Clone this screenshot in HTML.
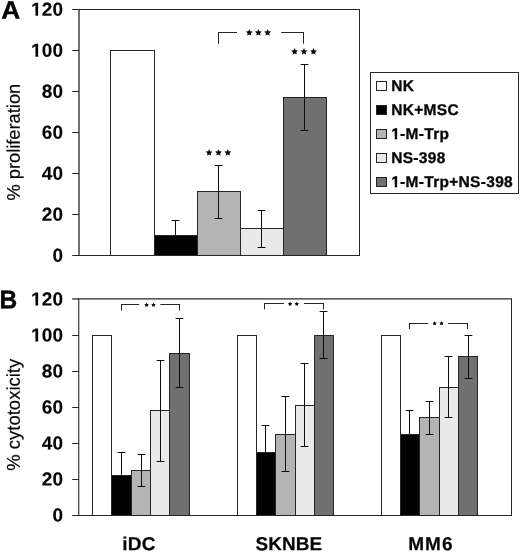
<!DOCTYPE html>
<html><head><meta charset="utf-8"><title>Figure</title>
<style>
html,body{margin:0;padding:0;background:#fff;}
body{width:520px;height:552px;overflow:hidden;font-family:"Liberation Sans",sans-serif;}
svg{display:block;will-change:transform;}
text{font-family:"Liberation Sans",sans-serif;fill:#050505;}
.tk{font-size:18.9px;font-weight:bold;letter-spacing:0.1px;stroke:#050505;stroke-width:0.12px;}
.cat{font-size:19px;font-weight:bold;letter-spacing:0.1px;stroke:#050505;stroke-width:0.2px;}
.lg{font-size:15.5px;font-weight:bold;letter-spacing:0.3px;stroke:#050505;stroke-width:0.3px;}
.pl{font-size:25px;font-weight:bold;stroke:#050505;stroke-width:0.4px;}
.yl{font-size:18.5px;font-weight:normal;stroke:#050505;stroke-width:0.2px;}
</style></head><body>
<svg width="520" height="552" viewBox="0 0 520 552">
<rect x="0" y="0" width="520" height="552" fill="#ffffff"/>
<rect x="79.00" y="9.20" width="280.50" height="246.20" fill="#fff" stroke="none"/>
<line x1="78.50" y1="9.50" x2="360.00" y2="9.50" stroke="#262626" stroke-width="1"/>
<line x1="78.50" y1="255.50" x2="360.00" y2="255.50" stroke="#262626" stroke-width="1"/>
<line x1="359.50" y1="9.20" x2="359.50" y2="255.40" stroke="#262626" stroke-width="1"/>
<line x1="79.00" y1="9.00" x2="79.00" y2="256.00" stroke="#262626" stroke-width="1.3"/>
<line x1="72.20" y1="255.50" x2="79.00" y2="255.50" stroke="#262626" stroke-width="1"/>
<text transform="translate(63.1,261.85) rotate(0.03) scale(1.005,1)" text-anchor="end" class="tk">0</text>
<line x1="72.20" y1="214.50" x2="79.00" y2="214.50" stroke="#262626" stroke-width="1"/>
<text transform="translate(63.1,220.82) rotate(0.03) scale(1.005,1)" text-anchor="end" class="tk">20</text>
<line x1="72.20" y1="173.50" x2="79.00" y2="173.50" stroke="#262626" stroke-width="1"/>
<text transform="translate(63.1,179.78) rotate(0.03) scale(1.005,1)" text-anchor="end" class="tk">40</text>
<line x1="72.20" y1="132.50" x2="79.00" y2="132.50" stroke="#262626" stroke-width="1"/>
<text transform="translate(63.1,138.75) rotate(0.03) scale(1.005,1)" text-anchor="end" class="tk">60</text>
<line x1="72.20" y1="91.50" x2="79.00" y2="91.50" stroke="#262626" stroke-width="1"/>
<text transform="translate(63.1,97.72) rotate(0.03) scale(1.005,1)" text-anchor="end" class="tk">80</text>
<line x1="72.20" y1="50.50" x2="79.00" y2="50.50" stroke="#262626" stroke-width="1"/>
<text transform="translate(63.1,56.68) rotate(0.03) scale(1.005,1)" text-anchor="end" class="tk">100</text>
<rect x="31.00" y="53.68" width="4.40" height="3.90" fill="#fff"/><rect x="38.20" y="53.68" width="3.80" height="3.90" fill="#fff"/>
<line x1="72.20" y1="9.50" x2="79.00" y2="9.50" stroke="#262626" stroke-width="1"/>
<text transform="translate(63.1,15.65) rotate(0.03) scale(1.005,1)" text-anchor="end" class="tk">120</text>
<rect x="31.00" y="12.65" width="4.40" height="3.90" fill="#fff"/><rect x="38.20" y="12.65" width="3.80" height="3.90" fill="#fff"/>
<rect x="110.50" y="50.50" width="44.00" height="205.00" fill="#ffffff" stroke="#262626" stroke-width="1"/>
<rect x="154.50" y="235.50" width="43.00" height="20.00" fill="#000000" stroke="#262626" stroke-width="1"/>
<rect x="197.50" y="191.50" width="43.00" height="64.00" fill="#b4b4b4" stroke="#262626" stroke-width="1"/>
<rect x="240.50" y="228.50" width="43.00" height="27.00" fill="#e9e9e9" stroke="#262626" stroke-width="1"/>
<rect x="283.50" y="97.50" width="43.00" height="158.00" fill="#707070" stroke="#262626" stroke-width="1"/>
<line x1="175.50" y1="220.00" x2="175.50" y2="235.50" stroke="#0c0c0c" stroke-width="1"/><line x1="171.60" y1="220.50" x2="179.40" y2="220.50" stroke="#0c0c0c" stroke-width="1"/>
<line x1="218.50" y1="165.00" x2="218.50" y2="219.00" stroke="#0c0c0c" stroke-width="1"/><line x1="214.60" y1="165.50" x2="222.40" y2="165.50" stroke="#0c0c0c" stroke-width="1"/><line x1="214.60" y1="218.50" x2="222.40" y2="218.50" stroke="#0c0c0c" stroke-width="1"/>
<line x1="261.50" y1="210.00" x2="261.50" y2="248.00" stroke="#0c0c0c" stroke-width="1"/><line x1="257.60" y1="210.50" x2="265.40" y2="210.50" stroke="#0c0c0c" stroke-width="1"/><line x1="257.60" y1="247.50" x2="265.40" y2="247.50" stroke="#0c0c0c" stroke-width="1"/>
<line x1="304.50" y1="64.00" x2="304.50" y2="131.00" stroke="#0c0c0c" stroke-width="1"/><line x1="300.60" y1="64.50" x2="308.40" y2="64.50" stroke="#0c0c0c" stroke-width="1"/><line x1="300.60" y1="130.50" x2="308.40" y2="130.50" stroke="#0c0c0c" stroke-width="1"/>
<line x1="218.50" y1="32.00" x2="218.50" y2="43.70" stroke="#262626" stroke-width="1"/><line x1="218.00" y1="32.50" x2="237.00" y2="32.50" stroke="#262626" stroke-width="1"/><line x1="303.50" y1="32.00" x2="303.50" y2="43.70" stroke="#262626" stroke-width="1"/><line x1="281.30" y1="32.50" x2="304.00" y2="32.50" stroke="#262626" stroke-width="1"/>
<polygon points="249.30,29.15 250.34,31.26 252.68,31.60 250.99,33.25 251.39,35.57 249.30,34.48 247.21,35.57 247.61,33.25 245.92,31.60 248.26,31.26" fill="#0a0a0a"/>
<polygon points="258.40,29.15 259.44,31.26 261.78,31.60 260.09,33.25 260.49,35.57 258.40,34.48 256.31,35.57 256.71,33.25 255.02,31.60 257.36,31.26" fill="#0a0a0a"/>
<polygon points="267.60,29.15 268.64,31.26 270.98,31.60 269.29,33.25 269.69,35.57 267.60,34.48 265.51,35.57 265.91,33.25 264.22,31.60 266.56,31.26" fill="#0a0a0a"/>
<polygon points="294.60,48.05 295.64,50.16 297.98,50.50 296.29,52.15 296.69,54.47 294.60,53.38 292.51,54.47 292.91,52.15 291.22,50.50 293.56,50.16" fill="#0a0a0a"/>
<polygon points="304.00,48.05 305.04,50.16 307.38,50.50 305.69,52.15 306.09,54.47 304.00,53.38 301.91,54.47 302.31,52.15 300.62,50.50 302.96,50.16" fill="#0a0a0a"/>
<polygon points="313.50,48.05 314.54,50.16 316.88,50.50 315.19,52.15 315.59,54.47 313.50,53.38 311.41,54.47 311.81,52.15 310.12,50.50 312.46,50.16" fill="#0a0a0a"/>
<polygon points="209.10,149.15 210.14,151.26 212.48,151.60 210.79,153.25 211.19,155.57 209.10,154.47 207.01,155.57 207.41,153.25 205.72,151.60 208.06,151.26" fill="#0a0a0a"/>
<polygon points="218.50,149.15 219.54,151.26 221.88,151.60 220.19,153.25 220.59,155.57 218.50,154.47 216.41,155.57 216.81,153.25 215.12,151.60 217.46,151.26" fill="#0a0a0a"/>
<polygon points="227.80,149.15 228.84,151.26 231.18,151.60 229.49,153.25 229.89,155.57 227.80,154.47 225.71,155.57 226.11,153.25 224.42,151.60 226.76,151.26" fill="#0a0a0a"/>
<rect x="370.50" y="72.50" width="148.00" height="121.00" fill="#ffffff" stroke="#262626" stroke-width="1"/>
<rect x="376.50" y="81.50" width="10.00" height="9.00" fill="#ffffff" stroke="#262626" stroke-width="1"/>
<text transform="translate(391.2,91.00) rotate(0.03)" class="lg">NK</text>
<rect x="376.50" y="105.50" width="10.00" height="9.00" fill="#000000" stroke="#262626" stroke-width="1"/>
<text transform="translate(391.2,115.00) rotate(0.03)" class="lg">NK+MSC</text>
<rect x="376.50" y="129.50" width="10.00" height="9.00" fill="#b4b4b4" stroke="#262626" stroke-width="1"/>
<text transform="translate(391.2,139.00) rotate(0.03)" class="lg">1-M-Trp</text>
<rect x="391.30" y="135.90" width="3.34" height="4.30" fill="#fff"/><rect x="397.15" y="135.90" width="3.05" height="4.30" fill="#fff"/>
<rect x="376.50" y="153.50" width="10.00" height="9.00" fill="#e9e9e9" stroke="#262626" stroke-width="1"/>
<text transform="translate(391.2,163.00) rotate(0.03)" class="lg">NS-398</text>
<rect x="376.50" y="177.50" width="10.00" height="9.00" fill="#707070" stroke="#262626" stroke-width="1"/>
<text transform="translate(391.2,187.00) rotate(0.03)" class="lg">1-M-Trp+NS-398</text>
<rect x="391.30" y="183.90" width="3.34" height="4.30" fill="#fff"/><rect x="397.15" y="183.90" width="3.05" height="4.30" fill="#fff"/>
<text transform="translate(1.2,18.6) rotate(0.03) scale(1.05,1)" class="pl">A</text>
<text transform="translate(19.7,200.6) rotate(-89.97)" class="yl" style="font-size:18.3px">% proliferation</text>
<rect x="78.75" y="299.10" width="432.75" height="216.10" fill="#fff" stroke="none"/>
<line x1="78.25" y1="298.95" x2="512.00" y2="298.95" stroke="#262626" stroke-width="1.3"/>
<line x1="78.25" y1="515.50" x2="512.00" y2="515.50" stroke="#262626" stroke-width="1"/>
<line x1="511.50" y1="299.10" x2="511.50" y2="515.20" stroke="#262626" stroke-width="1"/>
<line x1="78.75" y1="298.60" x2="78.75" y2="515.70" stroke="#262626" stroke-width="1.1"/>
<line x1="72.20" y1="515.50" x2="78.75" y2="515.50" stroke="#262626" stroke-width="1"/>
<text transform="translate(63.1,521.50) rotate(0.03) scale(1.005,1)" text-anchor="end" class="tk">0</text>
<line x1="72.20" y1="479.50" x2="78.75" y2="479.50" stroke="#262626" stroke-width="1"/>
<text transform="translate(63.1,485.48) rotate(0.03) scale(1.005,1)" text-anchor="end" class="tk">20</text>
<line x1="72.20" y1="443.50" x2="78.75" y2="443.50" stroke="#262626" stroke-width="1"/>
<text transform="translate(63.1,449.47) rotate(0.03) scale(1.005,1)" text-anchor="end" class="tk">40</text>
<line x1="72.20" y1="407.50" x2="78.75" y2="407.50" stroke="#262626" stroke-width="1"/>
<text transform="translate(63.1,413.45) rotate(0.03) scale(1.005,1)" text-anchor="end" class="tk">60</text>
<line x1="72.20" y1="371.50" x2="78.75" y2="371.50" stroke="#262626" stroke-width="1"/>
<text transform="translate(63.1,377.43) rotate(0.03) scale(1.005,1)" text-anchor="end" class="tk">80</text>
<line x1="72.20" y1="335.50" x2="78.75" y2="335.50" stroke="#262626" stroke-width="1"/>
<text transform="translate(63.1,341.42) rotate(0.03) scale(1.005,1)" text-anchor="end" class="tk">100</text>
<rect x="31.00" y="338.42" width="4.40" height="3.90" fill="#fff"/><rect x="38.20" y="338.42" width="3.80" height="3.90" fill="#fff"/>
<line x1="72.20" y1="298.95" x2="78.75" y2="298.95" stroke="#262626" stroke-width="1.3"/>
<text transform="translate(63.1,305.40) rotate(0.03) scale(1.005,1)" text-anchor="end" class="tk">120</text>
<rect x="31.00" y="302.40" width="4.40" height="3.90" fill="#fff"/><rect x="38.20" y="302.40" width="3.80" height="3.90" fill="#fff"/>
<rect x="92.50" y="335.50" width="19.00" height="180.00" fill="#ffffff" stroke="#262626" stroke-width="1"/>
<rect x="111.50" y="475.50" width="20.00" height="40.00" fill="#000000" stroke="#262626" stroke-width="1"/>
<rect x="131.50" y="470.50" width="19.00" height="45.00" fill="#b4b4b4" stroke="#262626" stroke-width="1"/>
<rect x="150.50" y="410.50" width="19.00" height="105.00" fill="#e9e9e9" stroke="#262626" stroke-width="1"/>
<rect x="169.50" y="353.50" width="20.00" height="162.00" fill="#707070" stroke="#262626" stroke-width="1"/>
<line x1="121.50" y1="452.00" x2="121.50" y2="475.58" stroke="#0c0c0c" stroke-width="1"/><line x1="117.60" y1="452.50" x2="125.40" y2="452.50" stroke="#0c0c0c" stroke-width="1"/>
<line x1="141.50" y1="454.00" x2="141.50" y2="487.00" stroke="#0c0c0c" stroke-width="1"/><line x1="137.60" y1="454.50" x2="145.40" y2="454.50" stroke="#0c0c0c" stroke-width="1"/><line x1="137.60" y1="486.50" x2="145.40" y2="486.50" stroke="#0c0c0c" stroke-width="1"/>
<line x1="160.50" y1="360.00" x2="160.50" y2="462.00" stroke="#0c0c0c" stroke-width="1"/><line x1="156.60" y1="360.50" x2="164.40" y2="360.50" stroke="#0c0c0c" stroke-width="1"/><line x1="156.60" y1="461.50" x2="164.40" y2="461.50" stroke="#0c0c0c" stroke-width="1"/>
<line x1="179.50" y1="318.00" x2="179.50" y2="388.00" stroke="#0c0c0c" stroke-width="1"/><line x1="175.60" y1="318.50" x2="183.40" y2="318.50" stroke="#0c0c0c" stroke-width="1"/><line x1="175.60" y1="387.50" x2="183.40" y2="387.50" stroke="#0c0c0c" stroke-width="1"/>
<text transform="translate(138.95,550.2) rotate(0.03)" text-anchor="middle" class="cat" style="letter-spacing:0.30px">iDC</text>
<line x1="121.50" y1="304.00" x2="121.50" y2="310.60" stroke="#262626" stroke-width="1"/><line x1="121.00" y1="304.50" x2="139.20" y2="304.50" stroke="#262626" stroke-width="1"/><line x1="179.50" y1="304.00" x2="179.50" y2="310.60" stroke="#262626" stroke-width="1"/><line x1="160.30" y1="304.50" x2="180.00" y2="304.50" stroke="#262626" stroke-width="1"/>
<polygon points="146.60,302.75 147.33,304.00 148.74,304.30 147.78,305.38 147.92,306.82 146.60,306.24 145.28,306.82 145.42,305.38 144.46,304.30 145.87,304.00" fill="#0a0a0a"/>
<polygon points="153.50,302.75 154.23,304.00 155.64,304.30 154.68,305.38 154.82,306.82 153.50,306.24 152.18,306.82 152.32,305.38 151.36,304.30 152.77,304.00" fill="#0a0a0a"/>
<rect x="237.50" y="335.50" width="19.00" height="180.00" fill="#ffffff" stroke="#262626" stroke-width="1"/>
<rect x="256.50" y="452.50" width="19.00" height="63.00" fill="#000000" stroke="#262626" stroke-width="1"/>
<rect x="275.50" y="434.50" width="20.00" height="81.00" fill="#b4b4b4" stroke="#262626" stroke-width="1"/>
<rect x="295.50" y="405.50" width="19.00" height="110.00" fill="#e9e9e9" stroke="#262626" stroke-width="1"/>
<rect x="314.50" y="335.50" width="19.00" height="180.00" fill="#707070" stroke="#262626" stroke-width="1"/>
<line x1="265.50" y1="425.00" x2="265.50" y2="452.17" stroke="#0c0c0c" stroke-width="1"/><line x1="261.60" y1="425.50" x2="269.40" y2="425.50" stroke="#0c0c0c" stroke-width="1"/>
<line x1="285.50" y1="396.00" x2="285.50" y2="472.00" stroke="#0c0c0c" stroke-width="1"/><line x1="281.60" y1="396.50" x2="289.40" y2="396.50" stroke="#0c0c0c" stroke-width="1"/><line x1="281.60" y1="471.50" x2="289.40" y2="471.50" stroke="#0c0c0c" stroke-width="1"/>
<line x1="304.50" y1="363.00" x2="304.50" y2="447.00" stroke="#0c0c0c" stroke-width="1"/><line x1="300.60" y1="363.50" x2="308.40" y2="363.50" stroke="#0c0c0c" stroke-width="1"/><line x1="300.60" y1="446.50" x2="308.40" y2="446.50" stroke="#0c0c0c" stroke-width="1"/>
<line x1="323.50" y1="311.00" x2="323.50" y2="359.00" stroke="#0c0c0c" stroke-width="1"/><line x1="319.60" y1="311.50" x2="327.40" y2="311.50" stroke="#0c0c0c" stroke-width="1"/><line x1="319.60" y1="358.50" x2="327.40" y2="358.50" stroke="#0c0c0c" stroke-width="1"/>
<text transform="translate(288.80,550.2) rotate(0.03)" text-anchor="middle" class="cat" style="letter-spacing:0.00px">SKNBE</text>
<line x1="264.50" y1="303.00" x2="264.50" y2="309.40" stroke="#262626" stroke-width="1"/><line x1="264.00" y1="303.50" x2="283.90" y2="303.50" stroke="#262626" stroke-width="1"/><line x1="323.50" y1="303.00" x2="323.50" y2="309.40" stroke="#262626" stroke-width="1"/><line x1="303.90" y1="303.50" x2="324.00" y2="303.50" stroke="#262626" stroke-width="1"/>
<polygon points="290.10,301.75 290.83,303.00 292.24,303.30 291.28,304.38 291.42,305.82 290.10,305.24 288.78,305.82 288.92,304.38 287.96,303.30 289.37,303.00" fill="#0a0a0a"/>
<polygon points="296.80,301.75 297.53,303.00 298.94,303.30 297.98,304.38 298.12,305.82 296.80,305.24 295.48,305.82 295.62,304.38 294.66,303.30 296.07,303.00" fill="#0a0a0a"/>
<rect x="381.50" y="335.50" width="19.00" height="180.00" fill="#ffffff" stroke="#262626" stroke-width="1"/>
<rect x="400.50" y="434.50" width="19.00" height="81.00" fill="#000000" stroke="#262626" stroke-width="1"/>
<rect x="419.50" y="417.50" width="20.00" height="98.00" fill="#b4b4b4" stroke="#262626" stroke-width="1"/>
<rect x="439.50" y="387.50" width="19.00" height="128.00" fill="#e9e9e9" stroke="#262626" stroke-width="1"/>
<rect x="458.50" y="356.50" width="19.00" height="159.00" fill="#707070" stroke="#262626" stroke-width="1"/>
<line x1="409.50" y1="410.00" x2="409.50" y2="434.16" stroke="#0c0c0c" stroke-width="1"/><line x1="405.60" y1="410.50" x2="413.40" y2="410.50" stroke="#0c0c0c" stroke-width="1"/>
<line x1="429.50" y1="401.00" x2="429.50" y2="435.00" stroke="#0c0c0c" stroke-width="1"/><line x1="425.60" y1="401.50" x2="433.40" y2="401.50" stroke="#0c0c0c" stroke-width="1"/><line x1="425.60" y1="434.50" x2="433.40" y2="434.50" stroke="#0c0c0c" stroke-width="1"/>
<line x1="448.50" y1="356.00" x2="448.50" y2="418.00" stroke="#0c0c0c" stroke-width="1"/><line x1="444.60" y1="356.50" x2="452.40" y2="356.50" stroke="#0c0c0c" stroke-width="1"/><line x1="444.60" y1="417.50" x2="452.40" y2="417.50" stroke="#0c0c0c" stroke-width="1"/>
<line x1="468.50" y1="335.00" x2="468.50" y2="379.00" stroke="#0c0c0c" stroke-width="1"/><line x1="464.60" y1="335.50" x2="472.40" y2="335.50" stroke="#0c0c0c" stroke-width="1"/><line x1="464.60" y1="378.50" x2="472.40" y2="378.50" stroke="#0c0c0c" stroke-width="1"/>
<text transform="translate(430.90,550.2) rotate(0.03)" text-anchor="middle" class="cat" style="letter-spacing:1.00px">MM6</text>
<line x1="409.50" y1="323.00" x2="409.50" y2="329.00" stroke="#262626" stroke-width="1"/><line x1="409.00" y1="323.50" x2="428.20" y2="323.50" stroke="#262626" stroke-width="1"/><line x1="467.50" y1="323.00" x2="467.50" y2="329.00" stroke="#262626" stroke-width="1"/><line x1="448.10" y1="323.50" x2="468.00" y2="323.50" stroke="#262626" stroke-width="1"/>
<polygon points="434.60,321.15 435.33,322.40 436.74,322.70 435.78,323.78 435.92,325.22 434.60,324.64 433.28,325.22 433.42,323.78 432.46,322.70 433.87,322.40" fill="#0a0a0a"/>
<polygon points="441.60,321.15 442.33,322.40 443.74,322.70 442.78,323.78 442.92,325.22 441.60,324.64 440.28,325.22 440.42,323.78 439.46,322.70 440.87,322.40" fill="#0a0a0a"/>
<text transform="translate(-0.6,308.2) rotate(0.03) scale(0.98,1.02)" class="pl">B</text>
<text transform="translate(19.8,470.8) rotate(-89.97)" class="yl">% cytotoxicity</text>
</svg>
</body></html>
